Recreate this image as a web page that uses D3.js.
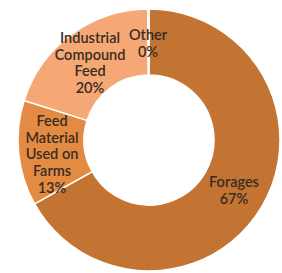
<!DOCTYPE html>
<html><head><meta charset="utf-8">
<script src="https://cdn.jsdelivr.net/npm/d3@7"></script>
<style>html,body{margin:0;padding:0;background:#fff;}</style>
</head><body>
<svg id="c" width="282" height="273"></svg>
<script>
const categories = ["Forages", "Feed Material Used on Farms", "Industrial Compound Feed", "Other"];
const values = [67, 13, 20, 0.15];
const labels = ["67%", "13%", "20%", "0%"];
const labelLines = [["Forages"], ["Feed", "Material", "Used on", "Farms"], ["Industrial", "Compound", "Feed"], ["Other"]];
const colors = ["#C37332", "#E48B43", "#F5A775", "#F0A070"];

const svg = d3.select("#c");
const cx = 149, cy = 140, rO = 131, rI = 65;
const g = svg.append("g").attr("transform", `translate(${cx},${cy})`);
const pie = d3.pie().sort(null).value(d => d)(values);
const arc = d3.arc().innerRadius(rI).outerRadius(rO);
g.selectAll("path").data(pie).join("path")
  .attr("d", arc).attr("fill", (d, i) => colors[i])
  .attr("stroke", "#fff").attr("stroke-width", 1.5);

const labelPos = [[85, 47], [-97, -14], [-59, -97], [-1, -100]];
const lh = 16.7;
labelPos.forEach((p, i) => {
  const lines = labelLines[i].concat([labels[i]]);
  const t = g.append("text").attr("text-anchor", "middle")
    .attr("font-family", "Lato, 'Open Sans', sans-serif").attr("font-size", 14.5)
    .attr("font-weight", 600).attr("fill", "#3a2c22");
  lines.forEach((l, j) => {
    t.append("tspan").attr("x", p[0]).attr("y", p[1] + j * lh).text(l);
  });
});
</script>
</body></html>
